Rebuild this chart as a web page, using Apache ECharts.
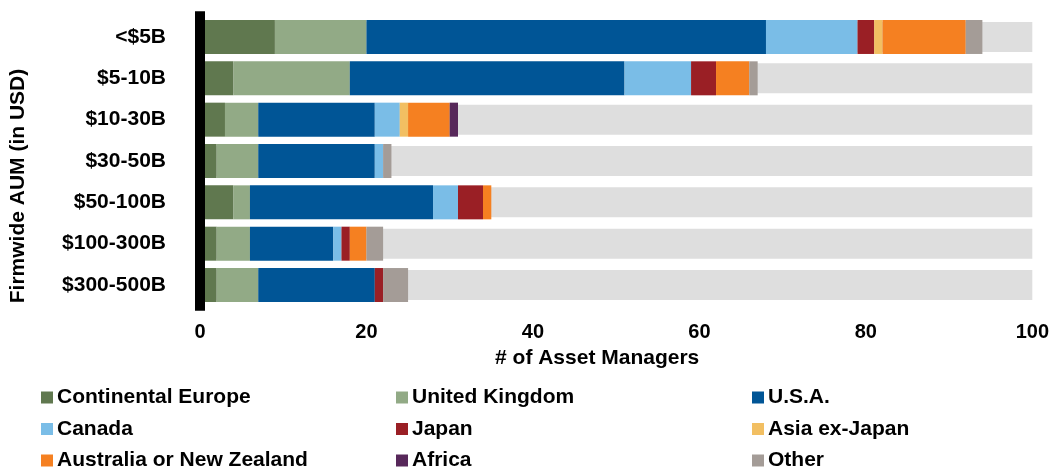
<!DOCTYPE html>
<html>
<head>
<meta charset="utf-8">
<script src="https://cdn.jsdelivr.net/npm/echarts@6/dist/echarts.min.js"></script>
<style>
  html, body { margin: 0; padding: 0; background: #fff; }
  #chart { width: 1052px; height: 467px; }
</style>
</head>
<body>
<div id="chart"></div>
<script>
// categories, top to bottom
const aumBuckets = ['<$5B', '$5-10B', '$10-30B', '$30-50B', '$50-100B', '$100-300B', '$300-500B']

// counts of asset managers per region
const continentalEurope = [9, 4, 3, 2, 4, 2, 2]
const unitedKingdom = [11, 14, 4, 5, 2, 4, 5]
const usa = [48, 33, 14, 14, 22, 10, 14]
const canada = [11, 8, 3, 1, 3, 1, 0]
const japan = [2, 3, 0, 0, 3, 1, 1]
const asiaExJapan = [1, 0, 1, 0, 0, 0, 0]
const australiaNz = [10, 4, 5, 0, 1, 2, 0]
const africa = [0, 0, 1, 0, 0, 0, 0]
const other = [2, 1, 0, 1, 0, 2, 3]
// light grey track behind each bar
const track = [100, 100, 100, 100, 100, 100, 100]

const xTicks = [0, 20, 40, 60, 80, 100]

const regions = [
  { name: 'Continental Europe', data: continentalEurope, color: '#60784F' },
  { name: 'United Kingdom', data: unitedKingdom, color: '#92AA86' },
  { name: 'U.S.A.', data: usa, color: '#005596' },
  { name: 'Canada', data: canada, color: '#7ABDE7' },
  { name: 'Japan', data: japan, color: '#9A1F25' },
  { name: 'Asia ex-Japan', data: asiaExJapan, color: '#F2BF62' },
  { name: 'Australia or New Zealand', data: australiaNz, color: '#F58021' },
  { name: 'Africa', data: africa, color: '#57285A' },
  { name: 'Other', data: other, color: '#A49C97' }
]

const font = 'Liberation Sans, Arial, sans-serif'
const txt = { fontFamily: font, fontWeight: 'bold', fontSize: 21, color: '#000' }

const chart = echarts.init(document.getElementById('chart'))

// one vertical legend per column
const legendCol = (left, names) => ({
  orient: 'vertical',
  left: left,
  top: 387,
  height: 120,
  padding: 0,
  itemGap: 10.5,
  itemWidth: 12,
  itemHeight: 12,
  icon: 'rect',
  selectedMode: false,
  data: names,
  textStyle: Object.assign({}, txt, { lineHeight: 20, padding: [0, 0, 0, -1] })
})

const option = {
  animation: false,
  backgroundColor: '#fff',
  grid: { left: 198.5, right: 18, top: 16.3, bottom: 161.3, containLabel: false },
  legend: [
    legendCol(41, ['Continental Europe', 'Canada', 'Australia or New Zealand']),
    legendCol(396, ['United Kingdom', 'Japan', 'Africa']),
    legendCol(752, ['U.S.A.', 'Asia ex-Japan', 'Other'])
  ],
  xAxis: {
    type: 'value',
    min: xTicks[0],
    max: xTicks[xTicks.length - 1],
    interval: 20,
    name: '# of Asset Managers',
    nameLocation: 'middle',
    nameGap: 41,
    nameTextStyle: Object.assign({}, txt, { padding: [0, 38, 0, 0] }),
    axisLine: { show: false },
    axisTick: { show: false },
    splitLine: { show: false },
    axisLabel: Object.assign({}, txt, { fontSize: 20, margin: 17 })
  },
  yAxis: [
    {
      type: 'category',
      data: aumBuckets,
      inverse: true,
      name: 'Firmwide AUM (in USD)',
      nameLocation: 'middle',
      nameGap: 171,
      nameRotate: 90,
      nameTextStyle: Object.assign({}, txt, { padding: [0, 50, 0, 0] }),
      axisLine: { show: true, lineStyle: { color: '#000', width: 10, cap: 'square' } },
      axisTick: { show: false },
      axisLabel: Object.assign({}, txt, { margin: 34 }),
      z: 10
    },
    {
      type: 'category',
      data: aumBuckets,
      inverse: true,
      show: false
    }
  ],
  series: [
    {
      name: 'track',
      type: 'bar',
      yAxisIndex: 1,
      data: track,
      barWidth: 30,
      silent: true,
      itemStyle: { color: '#DEDEDE' },
      z: 1
    }
  ].concat(regions.map(r => ({
    name: r.name,
    type: 'bar',
    stack: 'total',
    data: r.data,
    barWidth: 34,
    itemStyle: { color: r.color },
    z: 2
  })))
}

chart.setOption(option)
</script>
</body>
</html>
